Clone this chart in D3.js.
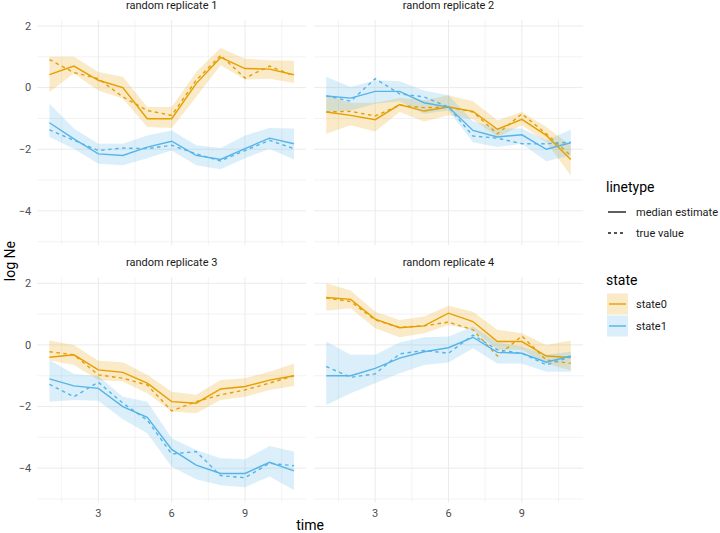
<!DOCTYPE html>
<html>
<head>
    <meta charset="UTF-8">
    <title>log Ne by state</title>
    <style>
        body { margin: 0; background: #fff; }
        text { font-family: Roboto, "Noto Sans", sans-serif; }
        .grid-major { stroke: #ebebeb; stroke-width: 1; }
        .grid-minor { stroke: #ebebeb; stroke-width: 0.6; }
        .tick-label { fill: #4d4d4d; font-size: 11px; }
        .strip { fill: #1a1a1a; font-size: 11px; }
    </style>
</head>
<body>
<script src="https://cdn.jsdelivr.net/npm/d3@7"></script>
<script>
    // time points
    var time = [1, 2, 3, 4, 5, 6, 7, 8, 9, 10, 11];
    var replicates = ["random replicate 1", "random replicate 2", "random replicate 3", "random replicate 4"];
    var states = ["state0", "state1"];
    var linetypes = ["median estimate", "true value"];
    var xTicks = [3, 6, 9];
    var yTicks = [-4, -2, 0, 2];

    // replicate 1
    var r1_state0_med = [0.42, 0.70, 0.24, 0.00, -1.01, -1.01, 0.13, 0.98, 0.62, 0.60, 0.42];
    var r1_state0_true = [0.91, 0.49, 0.29, -0.30, -0.74, -0.90, 0.24, 1.05, 0.31, 0.70, 0.38];
    var r1_state0_lo = [-0.14, 0.46, -0.09, -0.35, -1.28, -1.31, -0.30, 0.73, 0.26, 0.29, 0.15];
    var r1_state0_hi = [1.00, 1.00, 0.51, 0.35, -0.63, -0.63, 0.51, 1.29, 0.94, 0.89, 0.87];
    var r1_state1_med = [-1.14, -1.66, -2.15, -2.20, -1.93, -1.74, -2.20, -2.33, -1.98, -1.64, -1.82];
    var r1_state1_true = [-1.37, -1.71, -2.04, -1.96, -1.98, -1.87, -2.15, -2.38, -2.04, -1.71, -1.98];
    var r1_state1_lo = [-1.60, -1.98, -2.47, -2.52, -2.29, -2.04, -2.52, -2.65, -2.29, -1.98, -2.33];
    var r1_state1_hi = [-0.52, -1.33, -1.82, -1.82, -1.55, -1.39, -1.87, -1.96, -1.55, -1.31, -1.33];

    // replicate 2
    var r2_state0_med = [-0.79, -0.90, -1.04, -0.55, -0.76, -0.63, -0.77, -1.35, -1.03, -1.55, -2.33];
    var r2_state0_true = [-0.79, -0.77, -0.92, -0.57, -0.65, -0.63, -0.79, -1.50, -0.85, -1.50, -2.20];
    var r2_state0_lo = [-1.50, -1.22, -1.42, -0.79, -1.10, -0.90, -1.03, -1.60, -1.22, -1.77, -2.85];
    var r2_state0_hi = [-0.25, -0.49, -0.49, -0.34, -0.41, -0.25, -0.44, -1.06, -0.79, -1.28, -1.87];
    var r2_state1_med = [-0.27, -0.34, -0.12, -0.12, -0.49, -0.63, -1.39, -1.60, -1.53, -2.00, -1.79];
    var r2_state1_true = [-0.27, -0.44, 0.29, -0.20, -0.30, -0.63, -1.57, -1.64, -1.82, -1.82, -1.77];
    var r2_state1_lo = [-0.79, -0.74, -0.52, -0.44, -0.85, -0.74, -1.77, -1.93, -1.82, -2.39, -2.20];
    var r2_state1_hi = [0.35, 0.02, 0.24, 0.21, -0.09, -0.25, -1.09, -1.33, -1.33, -1.71, -1.37];

    // replicate 3
    var r3_state0_med = [-0.40, -0.32, -0.81, -0.89, -1.24, -1.84, -1.89, -1.43, -1.35, -1.14, -1.00];
    var r3_state0_true = [-0.22, -0.32, -0.97, -1.08, -1.30, -2.14, -1.84, -1.62, -1.46, -1.24, -1.00];
    var r3_state0_lo = [-0.50, -0.65, -1.14, -1.19, -1.57, -2.16, -2.22, -1.79, -1.68, -1.46, -1.33];
    var r3_state0_hi = [0.14, 0.00, -0.51, -0.56, -0.97, -1.52, -1.62, -1.14, -1.08, -0.87, -0.60];
    var r3_state1_med = [-1.10, -1.33, -1.41, -2.00, -2.35, -3.39, -3.90, -4.17, -4.17, -3.81, -4.09];
    var r3_state1_true = [-1.28, -1.68, -1.21, -1.89, -2.44, -3.54, -3.46, -4.24, -4.31, -3.84, -3.92];
    var r3_state1_lo = [-1.84, -1.79, -1.81, -2.41, -2.87, -3.95, -4.36, -4.55, -4.62, -4.27, -4.71];
    var r3_state1_hi = [-0.49, -0.94, -1.01, -1.68, -1.84, -3.03, -3.41, -3.68, -3.71, -3.28, -3.46];

    // replicate 4
    var r4_state0_med = [1.54, 1.48, 0.84, 0.56, 0.62, 1.03, 0.76, 0.11, 0.11, -0.36, -0.41];
    var r4_state0_true = [1.52, 1.41, 0.81, 0.57, 0.62, 0.74, 0.49, -0.36, 0.29, -0.49, -0.60];
    var r4_state0_lo = [1.11, 1.19, 0.54, 0.25, 0.38, 0.65, 0.49, -0.16, -0.16, -0.60, -0.83];
    var r4_state0_hi = [2.00, 1.77, 1.08, 0.81, 0.92, 1.27, 1.08, 0.49, 0.38, 0.00, 0.14];
    var r4_state1_med = [-1.00, -1.00, -0.76, -0.43, -0.22, -0.09, 0.25, -0.24, -0.27, -0.56, -0.36];
    var r4_state1_true = [-0.70, -1.05, -0.94, -0.29, -0.18, -0.27, 0.32, -0.16, -0.27, -0.65, -0.38];
    var r4_state1_lo = [-1.95, -1.57, -1.24, -0.92, -0.65, -0.57, -0.11, -0.60, -0.60, -0.87, -0.87];
    var r4_state1_hi = [0.11, -0.32, -0.32, 0.08, 0.25, 0.27, 0.60, 0.08, -0.05, -0.32, -0.22];

    var colors = {state0: "#E69F00", state1: "#56B4E9"};

    // build per-panel series from the arrays
    var panels = [
        {title: replicates[0], col: 0, row: 0, s: {
            state0: {med: r1_state0_med, tru: r1_state0_true, lo: r1_state0_lo, hi: r1_state0_hi},
            state1: {med: r1_state1_med, tru: r1_state1_true, lo: r1_state1_lo, hi: r1_state1_hi}}},
        {title: replicates[1], col: 1, row: 0, s: {
            state0: {med: r2_state0_med, tru: r2_state0_true, lo: r2_state0_lo, hi: r2_state0_hi},
            state1: {med: r2_state1_med, tru: r2_state1_true, lo: r2_state1_lo, hi: r2_state1_hi}}},
        {title: replicates[2], col: 0, row: 1, s: {
            state0: {med: r3_state0_med, tru: r3_state0_true, lo: r3_state0_lo, hi: r3_state0_hi},
            state1: {med: r3_state1_med, tru: r3_state1_true, lo: r3_state1_lo, hi: r3_state1_hi}}},
        {title: replicates[3], col: 1, row: 1, s: {
            state0: {med: r4_state0_med, tru: r4_state0_true, lo: r4_state0_lo, hi: r4_state0_hi},
            state1: {med: r4_state1_med, tru: r4_state1_true, lo: r4_state1_lo, hi: r4_state1_hi}}}
    ];

    var width = 720, height = 533;
    var panelX = [37.2, 314], panelY = [20, 277.3];
    var panelW = 269, panelH = 225;

    var xScale = d3.scaleLinear().domain([0.5, 11.5]).range([0, panelW]);
    var yScale = d3.scaleLinear().domain([-5.107, 2.195]).range([panelH, 0]);

    var svg = d3.select("body").append("svg")
        .attr("width", width)
        .attr("height", height);

    var line = d3.line()
        .x(function (d) { return xScale(d.x); })
        .y(function (d) { return yScale(d.y); });

    var area = d3.area()
        .x(function (d) { return xScale(d.x); })
        .y0(function (d) { return yScale(d.lo); })
        .y1(function (d) { return yScale(d.hi); });

    panels.forEach(function (p) {
        var g = svg.append("g")
            .attr("transform", "translate(" + panelX[p.col] + "," + panelY[p.row] + ")");

        // minor grid
        g.selectAll(".gx-minor").data([1.5, 4.5, 7.5, 10.5]).enter().append("line")
            .attr("class", "grid-minor")
            .attr("x1", xScale).attr("x2", xScale)
            .attr("y1", 0).attr("y2", panelH);
        g.selectAll(".gy-minor").data([-5, -3, -1, 1]).enter().append("line")
            .attr("class", "grid-minor")
            .attr("y1", yScale).attr("y2", yScale)
            .attr("x1", 0).attr("x2", panelW);
        // major grid
        g.selectAll(".gx-major").data(xTicks).enter().append("line")
            .attr("class", "grid-major")
            .attr("x1", xScale).attr("x2", xScale)
            .attr("y1", 0).attr("y2", panelH);
        g.selectAll(".gy-major").data(yTicks).enter().append("line")
            .attr("class", "grid-major")
            .attr("y1", yScale).attr("y2", yScale)
            .attr("x1", 0).attr("x2", panelW);

        // ribbons
        states.forEach(function (st) {
            var d = time.map(function (t, i) { return {x: t, lo: p.s[st].lo[i], hi: p.s[st].hi[i]}; });
            g.append("path").datum(d)
                .attr("d", area)
                .attr("fill", colors[st])
                .attr("fill-opacity", 0.22);
        });
        // lines
        states.forEach(function (st) {
            var med = time.map(function (t, i) { return {x: t, y: p.s[st].med[i]}; });
            var tru = time.map(function (t, i) { return {x: t, y: p.s[st].tru[i]}; });
            g.append("path").datum(med)
                .attr("d", line)
                .attr("fill", "none")
                .attr("stroke", colors[st])
                .attr("stroke-width", 1.4);
            g.append("path").datum(tru)
                .attr("d", line)
                .attr("fill", "none")
                .attr("stroke", colors[st])
                .attr("stroke-width", 1.4)
                .attr("stroke-dasharray", "3.5,3.5");
        });

        // strip title
        svg.append("text")
            .attr("class", "strip")
            .attr("x", panelX[p.col] + panelW / 2)
            .attr("y", panelY[p.row] - 15)
            .attr("dy", "0.35em")
            .attr("text-anchor", "middle")
            .text(p.title);

        // y tick labels on left column
        if (p.col === 0) {
            g.selectAll(".ylab").data(yTicks).enter().append("text")
                .attr("class", "tick-label")
                .attr("x", -6)
                .attr("y", yScale)
                .attr("dy", "0.35em")
                .attr("text-anchor", "end")
                .text(function (d) { return d < 0 ? "\u2212" + Math.abs(d) : d; });
        }
        // x tick labels on bottom row
        if (p.row === 1) {
            g.selectAll(".xlab").data(xTicks).enter().append("text")
                .attr("class", "tick-label")
                .attr("x", xScale)
                .attr("y", panelH + 11)
                .attr("dy", "0.35em")
                .attr("text-anchor", "middle")
                .text(function (d) { return d; });
        }
    });

    // axis titles
    svg.append("text")
        .attr("x", (panelX[0] + panelX[1] + panelW) / 2)
        .attr("y", 525)
        .attr("dy", "0.35em")
        .attr("text-anchor", "middle")
        .style("font-size", "14px")
        .text("time");
    svg.append("text")
        .attr("transform", "translate(10," + (panelY[0] + (panelY[1] + panelH)) / 2 + ") rotate(-90)")
        .attr("dy", "0.35em")
        .attr("text-anchor", "middle")
        .style("font-size", "14px")
        .text("log Ne");

    // legend: linetype
    var lg = svg.append("g").attr("transform", "translate(606,0)");
    lg.append("text").attr("x", 0).attr("y", 187).attr("dy", "0.35em")
        .style("font-size", "14px").text("linetype");
    lg.selectAll(".lt").data(linetypes).enter().append("line")
        .attr("x1", 2).attr("x2", 20)
        .attr("y1", function (d, i) { return 212 + i * 21; })
        .attr("y2", function (d, i) { return 212 + i * 21; })
        .attr("stroke", "#1a1a1a")
        .attr("stroke-width", 1.4)
        .attr("stroke-dasharray", function (d, i) { return i === 1 ? "3,3" : null; });
    lg.selectAll(".ltt").data(linetypes).enter().append("text")
        .attr("x", 30)
        .attr("y", function (d, i) { return 212 + i * 21; })
        .attr("dy", "0.35em")
        .style("font-size", "11px")
        .style("fill", "#1a1a1a")
        .text(function (d) { return d; });

    // legend: state
    lg.append("text").attr("x", 0).attr("y", 280).attr("dy", "0.35em")
        .style("font-size", "14px").text("state");
    lg.selectAll(".sb").data(states).enter().append("rect")
        .attr("x", 1).attr("width", 21)
        .attr("y", function (d, i) { return 293.5 + i * 22; })
        .attr("height", 21)
        .attr("fill", function (d) { return colors[d]; })
        .attr("fill-opacity", 0.22);
    lg.selectAll(".sl").data(states).enter().append("line")
        .attr("x1", 3).attr("x2", 20)
        .attr("y1", function (d, i) { return 304 + i * 22; })
        .attr("y2", function (d, i) { return 304 + i * 22; })
        .attr("stroke", function (d) { return colors[d]; })
        .attr("stroke-width", 1.4);
    lg.selectAll(".st").data(states).enter().append("text")
        .attr("x", 30)
        .attr("y", function (d, i) { return 304 + i * 22; })
        .attr("dy", "0.35em")
        .style("font-size", "11px")
        .style("fill", "#1a1a1a")
        .text(function (d) { return d; });
</script>
</body>
</html>
